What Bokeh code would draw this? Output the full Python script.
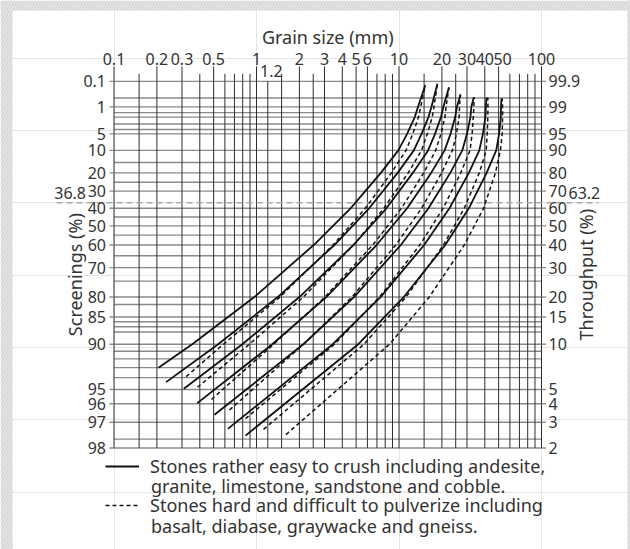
import math
import numpy as np
from bokeh.plotting import figure
from bokeh.models import Range1d, Legend, LegendItem, BoxAnnotation
from bokeh.embed import file_html
from bokeh.resources import INLINE
from bokeh.core.properties import value

# ---------------- data ----------------
# grid lines
grid_mm = [0.1, 0.15, 0.2, 0.3, 0.4, 0.5, 0.6, 0.7, 0.8, 0.9, 1, 1.2, 1.5, 2, 2.5,
           3, 4, 5, 6, 7, 8, 9, 10, 15, 20, 25, 30, 40, 50, 60, 70, 80, 90, 100]
grid_R = [0.1, 0.5, 1, 1.5, 2, 3, 4, 5, 10, 15, 20, 25, 30, 40, 45, 50, 55, 60, 65,
          70, 75, 80, 82, 85, 86, 87, 88, 90, 91, 92, 93, 94, 95, 96, 97, 97.7, 98]

# top (grain size) tick labels
top_tick_mm = [0.1, 0.2, 0.3, 0.5, 1, 2, 3, 4, 5, 6, 10, 20, 30, 40, 50, 100]
top_tick_text = ["0.1", "0.2", "0.3", "0.5", "1", "2", "3", "4", "5", "6",
                 "10", "20", "30", "40", "50", "100"]
top_tick_nudge = [0, 0, 0, 0, 0, 0, 0, 0, 0, 0, 0, 0, 0, 0, 4, 0]
minor_ext_mm = [0.15, 0.4, 0.6, 0.7, 0.8, 0.9, 1.5, 2.5, 7, 8, 9, 15, 25, 60, 70, 80, 90]

# left (screenings) / right (throughput) tick labels
side_tick_R = [0.1, 1, 5, 10, 20, 30, 40, 50, 60, 70, 80, 85, 90, 95, 96, 97, 98]
left_tick_text = ["0.1", "1", "5", "10", "20", "30", "40", "50", "60", "70", "80",
                  "85", "90", "95", "96", "97", "98"]
right_tick_text = ["99.9", "99", "95", "90", "80", "70", "60", "50", "40", "30", "20",
                   "15", "10", "5", "4", "3", "2"]
char_R = 36.8                 # characteristic size line (63.2 % throughput)
char_line_mm = [0.0395, 251]  # extent of that dashed line across the labels

# curves: screenings R (%) and grain size (mm)
level_R = [90, 80, 60, 40, 20, 10, 5, 2, 1]
solid_start_R = [93.0, 94.4, 94.95, 95.96, 96.63, 97.30, 97.57]
dashed_start_R = [93.9, 94.83, 95.72, 96.37, 96.83, 97.32, 97.53]
end_R = [0.15, 0.13, 0.19, 0.37, 0.47, 0.48, 0.52]

solid_mm = [
    [0.205, 0.354, 0.965, 2.52, 4.57, 7.46, 9.89, 11.4, 12.9, 13.6, 15.3],
    [0.232, 0.538, 1.41, 3.52, 6.17, 9.78, 12.7, 14.4, 16.1, 16.9, 18.6],
    [0.309, 0.795, 2.00, 4.79, 8.16, 12.5, 16.0, 17.9, 19.7, 20.5, 22.4],
    [0.384, 1.29, 3.09, 6.96, 11.4, 16.8, 20.9, 23.0, 24.8, 25.5, 27.0],
    [0.507, 2.13, 4.83, 10.3, 16.1, 22.9, 27.8, 30.0, 31.7, 32.2, 33.5],
    [0.629, 3.43, 7.42, 15.0, 22.6, 30.9, 36.6, 38.8, 40.4, 40.7, 41.1],
    [0.837, 5.18, 10.8, 21.1, 30.9, 41.2, 48.1, 50.4, 51.8, 52.0, 52.4],
]
dashed_mm = [
    [0.321, 0.586, 1.46, 3.44, 5.80, 8.84, 11.2, 12.5, 13.7, 14.2, 15.3],
    [0.385, 0.891, 2.13, 4.80, 7.83, 11.6, 14.4, 15.8, 17.1, 17.6, 18.6],
    [0.483, 1.32, 3.02, 6.54, 10.4, 14.9, 18.1, 19.7, 21.0, 21.4, 22.4],
    [0.646, 2.14, 4.67, 9.49, 14.4, 19.9, 23.7, 25.3, 26.4, 26.6, 27.0],
    [0.837, 3.53, 7.29, 14.0, 20.4, 27.1, 31.5, 32.6, 33.2, 33.5, 33.7],
    [1.12, 5.68, 11.2, 20.5, 28.7, 36.6, 40.9, 41.6, 42.0, 42.1, 42.0],
    [1.61, 8.58, 16.3, 28.7, 39.2, 47.5, 51.5, 53.0, 53.3, 53.3, 53.0],
]

legend_lines = [
    "Stones rather easy to crush including andesite,",
    "granite, limestone, sandstone and cobble.",
    "Stones hard and difficult to pulverize including",
    "basalt, diabase, graywacke and gneiss.",
]


# Rosin-Rammler ordinate: log10(ln(100/R))
def rr(R):
    return np.log10(np.log(100.0 / np.asarray(R, dtype=float)))


FONT = value("Noto Sans")
TXT = "#333333"

p = figure(width=630, height=549, output_backend="svg", toolbar_location=None,
           x_axis_type="log", x_axis_location=None, y_axis_location=None,
           x_range=Range1d(0.015976, 421.2), y_range=Range1d(-2.39599, 1.39806),
           min_border_left=0, min_border_right=0, min_border_top=0,
           min_border_bottom=0)
p.outline_line_color = None
p.background_fill_color = "white"
p.border_fill_color = "white"

y_top = float(rr(0.1))
y_bot = float(rr(98))

# horizontal grid
gy = rr(grid_R)
p.segment(x0=[grid_mm[0]] * len(gy), x1=[grid_mm[-1]] * len(gy), y0=gy, y1=gy,
          line_color="#8a8a8a", line_width=1.4)
# vertical grid
p.segment(x0=grid_mm, x1=grid_mm, y0=[y_bot] * len(grid_mm), y1=[y_top] * len(grid_mm),
          line_color="#2e2e2e", line_width=1.0)
# tick extensions
p.ray(x=top_tick_mm, y=[y_top] * len(top_tick_mm), length=15, length_units="screen",
      angle=math.pi / 2, line_color="#2e2e2e", line_width=1.0)
p.ray(x=minor_ext_mm, y=[y_top] * len(minor_ext_mm), length=7.5, length_units="screen",
      angle=math.pi / 2, line_color="#2e2e2e", line_width=1.0)
sy = rr(side_tick_R)
p.ray(x=[grid_mm[0]] * len(sy), y=sy, length=4.5, length_units="screen",
      angle=math.pi, line_color="#8a8a8a", line_width=1.4)
p.ray(x=[grid_mm[-1]] * len(sy), y=sy, length=4.5, length_units="screen",
      angle=0, line_color="#8a8a8a", line_width=1.4)

# 36.8 % (63.2 % throughput) line
yc = float(rr(char_R))
p.segment(x0=[char_line_mm[0]], x1=[char_line_mm[1]], y0=[yc], y1=[yc],
          line_color="#a8a8a8", line_width=1.5, line_dash="6 4")

# curves
s_xs = [list(m) for m in solid_mm]
s_ys = [list(rr([s] + level_R + [e])) for s, e in zip(solid_start_R, end_R)]
d_xs = [list(m) for m in dashed_mm]
d_ys = [list(rr([s] + level_R + [e])) for s, e in zip(dashed_start_R, end_R)]
r_solid = p.multi_line(xs=s_xs, ys=s_ys, line_color="#111111", line_width=1.8)
r_dash = p.multi_line(xs=d_xs, ys=d_ys, line_color="#111111", line_width=1.5,
                      line_dash="4 3")

# tick labels
p.text(x=top_tick_mm, y=[y_top] * len(top_tick_mm), text=top_tick_text,
       x_offset=top_tick_nudge, y_offset=-22, text_font=FONT, text_font_size="16px",
       text_color=TXT, text_align="center", text_baseline="middle")
p.text(x=[1.2], y=[y_top], text=["1.2"], x_offset=3.5, y_offset=-10, text_font=FONT,
       text_font_size="16px", text_color=TXT, text_align="center", text_baseline="middle")
p.text(x=[grid_mm[0]] * len(sy), y=sy, text=left_tick_text, x_offset=-8,
       text_font=FONT, text_font_size="16px", text_color=TXT, text_align="right",
       text_baseline="middle")
p.text(x=[grid_mm[-1]] * len(sy), y=sy, text=right_tick_text, x_offset=7,
       text_font=FONT, text_font_size="16px", text_color=TXT, text_align="left",
       text_baseline="middle")
p.text(x=[grid_mm[0]], y=[yc], text=["36.8"], x_offset=-28, y_offset=-10,
       text_font=FONT, text_font_size="16px", text_color=TXT, text_align="right",
       text_baseline="middle")
p.text(x=[grid_mm[-1]], y=[yc], text=["63.2"], x_offset=27, y_offset=-10,
       text_font=FONT, text_font_size="16px", text_color=TXT, text_align="left",
       text_baseline="middle")

# axis titles
x_mid = math.sqrt(grid_mm[0] * grid_mm[-1])
y_mid = (y_top + y_bot) / 2
p.text(x=[x_mid], y=[y_top], text=["Grain size (mm)"], y_offset=-44, text_font=FONT,
       text_font_size="18px", text_color=TXT, text_align="center", text_baseline="middle")
p.text(x=[grid_mm[0]], y=[y_mid], text=["Screenings (%)"], x_offset=-39.5, y_offset=10,
       angle=math.pi / 2, text_font=FONT, text_font_size="18px", text_color=TXT,
       text_align="center", text_baseline="middle")
p.text(x=[grid_mm[-1]], y=[y_mid], text=["Throughput (%)"], x_offset=44, y_offset=10,
       angle=math.pi / 2, text_font=FONT, text_font_size="18px", text_color=TXT,
       text_align="center", text_baseline="middle")

# legend: line samples + first lines via Legend, continuation lines as text
leg_style = dict(orientation="vertical", glyph_width=34, glyph_height=24, label_height=24,
                 label_standoff=11, spacing=0, padding=0, margin=0, border_line_alpha=0,
                 background_fill_alpha=0, label_text_font="Noto Sans",
                 label_text_font_size="18px", label_text_color=TXT)
p.add_layout(Legend(items=[LegendItem(label=legend_lines[0], renderers=[r_solid])],
                    location=(105, 71), **leg_style))
p.add_layout(Legend(items=[LegendItem(label=legend_lines[2], renderers=[r_dash])],
                    location=(105, 32), **leg_style))
p.text(x=[grid_mm[0]] * 2, y=[y_bot] * 2, text=[legend_lines[1], legend_lines[3]],
       x_offset=37, y_offset=[37.5, 77.5], text_font=FONT, text_font_size="18px",
       text_color=TXT, text_align="left", text_baseline="middle")

# hatched grey page edge around the white panel
edge = dict(fill_color="#e4e4e4", fill_alpha=1.0, line_alpha=0, hatch_pattern="/",
            hatch_color="#d2d2d2", hatch_scale=6, level="overlay",
            left_units="canvas", right_units="canvas", top_units="canvas",
            bottom_units="canvas")
p.add_layout(BoxAnnotation(left=0, right=12, top=0, bottom=549, **edge))
p.add_layout(BoxAnnotation(left=0, right=630, top=0, bottom=10, **edge))
p.add_layout(BoxAnnotation(left=627, right=630, top=0, bottom=549, **edge))

open("out.html", "w").write(file_html(p, INLINE))
